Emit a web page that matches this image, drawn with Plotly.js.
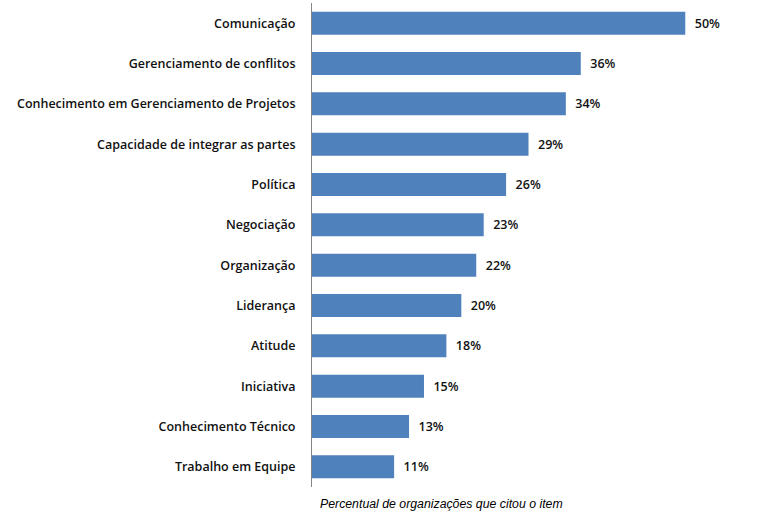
<!DOCTYPE html>
<html>
<head>
<meta charset="utf-8">
<script src="https://cdn.plot.ly/plotly-3.0.1.min.js"></script>
<style>html,body{margin:0;padding:0;background:#fff;}#chart{width:757px;height:515px;}</style>
</head>
<body>
<div id="chart"></div>
<script>
var categories = [
  "Comunicação",
  "Gerenciamento de conflitos",
  "Conhecimento em Gerenciamento de Projetos",
  "Capacidade de integrar as partes",
  "Política",
  "Negociação",
  "Organização",
  "Liderança",
  "Atitude",
  "Iniciativa",
  "Conhecimento Técnico",
  "Trabalho em Equipe"
];
var values = [50, 36, 34, 29, 26, 23, 22, 20, 18, 15, 13, 11];
var axisTitle = "Percentual de organizações que citou o item";

var trace = {
  type: "bar",
  orientation: "h",
  y: categories,
  x: values,
  marker: {color: "#4F81BD"},
  text: values.map(function(v){ return "  " + v + "%"; }),
  textposition: "outside",
  cliponaxis: false,
  textfont: {family: "Open Sans, sans-serif", size: 12.5, color: "#111", weight: 600},
  hoverinfo: "none"
};

var layout = {
  width: 757, height: 515,
  margin: {l: 312, r: 12, t: 3, b: 28},
  paper_bgcolor: "#fff", plot_bgcolor: "#fff",
  showlegend: false,
  bargap: 0.43,
  xaxis: {range: [0, 58], visible: false, fixedrange: true},
  yaxis: {
    autorange: "reversed",
    showline: true, linecolor: "#868686", linewidth: 1,
    showgrid: false, zeroline: false, ticks: "",
    ticklabelstandoff: 13,
    tickfont: {family: "Open Sans, sans-serif", size: 12.5, color: "#111", weight: 600}
  },
  annotations: [{
    text: "<i>" + axisTitle + "</i>",
    xref: "paper", yref: "paper", x: 0.014, y: 0, xanchor: "left", yanchor: "top",
    yshift: -8, showarrow: false,
    font: {family: "Liberation Sans, Arial, sans-serif", size: 12.3, color: "#000"}
  }]
};

Plotly.newPlot("chart", [trace], layout, {staticPlot: true});
</script>
</body>
</html>
